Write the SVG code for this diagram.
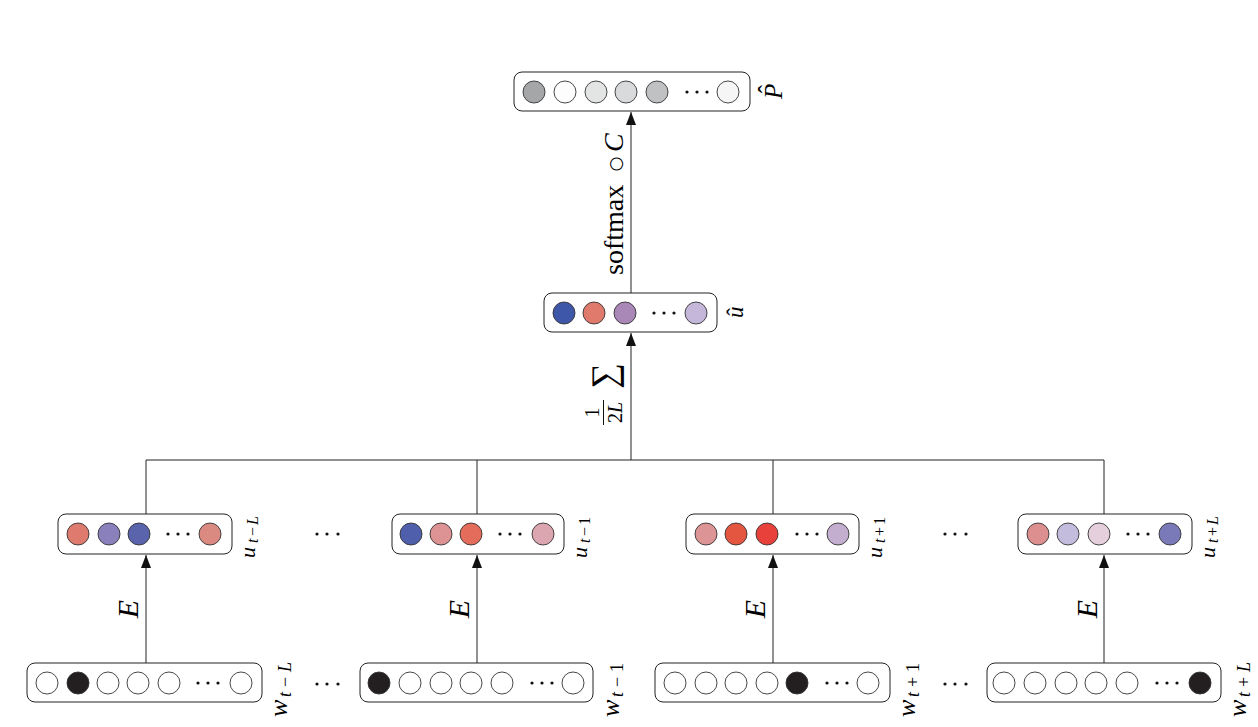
<svg xmlns="http://www.w3.org/2000/svg" width="1258" height="727" viewBox="0 0 1258 727">
<style>
.box{fill:#fff;stroke:#222;stroke-width:1}
.c{stroke:#333;stroke-width:0.9}
.w{fill:#fff}
.k{fill:#231f20}
.d{fill:#111}
.ln{stroke:#222;stroke-width:1;fill:none}
text{font-family:"Liberation Serif","DejaVu Serif",serif;fill:#000}
.it{font-style:italic}
</style>
<defs>
<marker id="ah" viewBox="0 0 13 10" refX="13" refY="5" markerWidth="13" markerHeight="10" markerUnits="userSpaceOnUse" orient="auto">
<path d="M0,0 L13,5 L0,10 z" fill="#111"/>
</marker>
</defs>
<rect width="1258" height="727" fill="#fff"/>

<g id="connectors">
<path class="ln" d="M146,460 H1104 M146,460 V514 M477,460 V514 M773,460 V514 M1104,460 V514"/>
<line class="ln" x1="631" y1="460" x2="631" y2="333" marker-end="url(#ah)"/>
<line class="ln" x1="631" y1="293" x2="631" y2="112" marker-end="url(#ah)"/>
<line class="ln" x1="146" y1="663" x2="146" y2="555" marker-end="url(#ah)"/>
<line class="ln" x1="477" y1="663" x2="477" y2="555" marker-end="url(#ah)"/>
<line class="ln" x1="773" y1="663" x2="773" y2="555" marker-end="url(#ah)"/>
<line class="ln" x1="1104" y1="663" x2="1104" y2="555" marker-end="url(#ah)"/>
<g transform="translate(138,609) rotate(-90)"><text class="it" font-size="30" text-anchor="middle">E</text></g>
<g transform="translate(469,609) rotate(-90)"><text class="it" font-size="30" text-anchor="middle">E</text></g>
<g transform="translate(765,609) rotate(-90)"><text class="it" font-size="30" text-anchor="middle">E</text></g>
<g transform="translate(1097,609) rotate(-90)"><text class="it" font-size="30" text-anchor="middle">E</text></g>
<g transform="translate(623,275) rotate(-90)">
<text font-size="28"><tspan x="0">softmax</tspan><tspan x="123" class="it">C</tspan></text>
<text x="111" y="-2" font-size="17" text-anchor="middle" style="font-family:'DejaVu Sans',sans-serif">○</text>
</g>
<g transform="translate(605,394) rotate(-90)">
<line x1="-31" y1="-1.5" x2="-6" y2="-1.5" stroke="#111" stroke-width="1"/>
<text font-size="20" x="-18.5" y="-6" text-anchor="middle">1</text>
<text font-size="20" x="-18.5" y="17" text-anchor="middle">2<tspan class="it">L</tspan></text>
<text font-size="36" x="18" y="11" text-anchor="middle">∑</text>
</g>
</g>

<g id="P">
<rect class="box" x="514" y="72" width="236" height="39" rx="8"/>
<circle class="c" cx="534" cy="92" r="11" fill="#a5a6a8"/>
<circle class="c" cx="565" cy="92" r="11" fill="#fdfdfd"/>
<circle class="c" cx="596" cy="92" r="11" fill="#e3e4e4"/>
<circle class="c" cx="626" cy="92" r="11" fill="#d9dadb"/>
<circle class="c" cx="657" cy="92" r="11" fill="#c0c1c3"/>
<circle class="d" cx="687" cy="92" r="1.6"/><circle class="d" cx="697" cy="92" r="1.6"/><circle class="d" cx="707" cy="92" r="1.6"/>
<circle class="c" cx="728" cy="92" r="11" fill="#f5f6f5"/>
<g transform="translate(782,99) rotate(-90)"><text font-size="25"><tspan class="it" x="0" y="0">P</tspan><tspan x="10" y="-6.5" text-anchor="middle">ˆ</tspan></text></g>
</g>

<g id="uhat">
<rect class="box" x="544" y="293" width="173" height="39" rx="8"/>
<circle class="c" cx="564" cy="313" r="11" fill="#3f57a8"/>
<circle class="c" cx="594" cy="313" r="11" fill="#df7a6c"/>
<circle class="c" cx="625" cy="313" r="11" fill="#a988b8"/>
<circle class="d" cx="654" cy="313" r="1.6"/><circle class="d" cx="664" cy="313" r="1.6"/><circle class="d" cx="674" cy="313" r="1.6"/>
<circle class="c" cx="696" cy="313" r="11" fill="#c4b7d9"/>
<g transform="translate(743,318) rotate(-90)"><text font-size="23"><tspan class="it" x="0" y="0">u</tspan><tspan x="6" y="0" text-anchor="middle">ˆ</tspan></text></g>
</g>

<g id="u_tL">
<rect class="box" x="58" y="514" width="174" height="40" rx="8"/>
<circle class="c" cx="78" cy="534" r="11" fill="#df7b6e"/>
<circle class="c" cx="109" cy="534" r="11" fill="#8a80bc"/>
<circle class="c" cx="139" cy="534" r="11" fill="#5a64ad"/>
<circle class="d" cx="168" cy="534" r="1.6"/><circle class="d" cx="178" cy="534" r="1.6"/><circle class="d" cx="188" cy="534" r="1.6"/>
<circle class="c" cx="210" cy="534" r="11" fill="#da8a80"/>
<g transform="translate(255,558) rotate(-90)"><text font-size="22"><tspan class="it" x="0">u</tspan><tspan class="it" font-size="16" x="15" dy="3">t</tspan><tspan font-size="16" x="22">−</tspan><tspan class="it" font-size="16" x="33">L</tspan></text></g>
</g>

<g id="u_t1">
<rect class="box" x="392" y="514" width="172" height="40" rx="8"/>
<circle class="c" cx="411" cy="534" r="11" fill="#4f5fab"/>
<circle class="c" cx="441" cy="534" r="11" fill="#dd9294"/>
<circle class="c" cx="471" cy="534" r="11" fill="#e46c5a"/>
<circle class="d" cx="500" cy="534" r="1.6"/><circle class="d" cx="510" cy="534" r="1.6"/><circle class="d" cx="520" cy="534" r="1.6"/>
<circle class="c" cx="543" cy="534" r="11" fill="#dba6b0"/>
<g transform="translate(587,558) rotate(-90)"><text font-size="22"><tspan class="it" x="0">u</tspan><tspan class="it" font-size="16" x="15" dy="3">t</tspan><tspan font-size="16" x="22">−</tspan><tspan font-size="16" x="33">1</tspan></text></g>
</g>

<g id="u_tp1">
<rect class="box" x="686" y="514" width="173" height="40" rx="8"/>
<circle class="c" cx="706" cy="534" r="11" fill="#dc9594"/>
<circle class="c" cx="736" cy="534" r="11" fill="#e4563f"/>
<circle class="c" cx="767" cy="534" r="11" fill="#e8403a"/>
<circle class="d" cx="797" cy="534" r="1.6"/><circle class="d" cx="807" cy="534" r="1.6"/><circle class="d" cx="817" cy="534" r="1.6"/>
<circle class="c" cx="838" cy="534" r="11" fill="#c4aed0"/>
<g transform="translate(882,558) rotate(-90)"><text font-size="22"><tspan class="it" x="0">u</tspan><tspan class="it" font-size="16" x="15" dy="3">t</tspan><tspan font-size="16" x="22">+</tspan><tspan font-size="16" x="33">1</tspan></text></g>
</g>

<g id="u_tpL">
<rect class="box" x="1018" y="514" width="174" height="40" rx="8"/>
<circle class="c" cx="1038" cy="534" r="11" fill="#dc8f8e"/>
<circle class="c" cx="1068" cy="534" r="11" fill="#c4bcdd"/>
<circle class="c" cx="1099" cy="534" r="11" fill="#e5cfdc"/>
<circle class="d" cx="1128" cy="534" r="1.6"/><circle class="d" cx="1138" cy="534" r="1.6"/><circle class="d" cx="1148" cy="534" r="1.6"/>
<circle class="c" cx="1170" cy="534" r="11" fill="#7b7ab8"/>
<g transform="translate(1215,558) rotate(-90)"><text font-size="22"><tspan class="it" x="0">u</tspan><tspan class="it" font-size="16" x="15" dy="3">t</tspan><tspan font-size="16" x="22">+</tspan><tspan class="it" font-size="16" x="33">L</tspan></text></g>
</g>

<g id="gap_dots">
<circle class="d" cx="317" cy="534" r="1.6"/><circle class="d" cx="327" cy="534" r="1.6"/><circle class="d" cx="338" cy="534" r="1.6"/>
<circle class="d" cx="945" cy="534" r="1.6"/><circle class="d" cx="955" cy="534" r="1.6"/><circle class="d" cx="966" cy="534" r="1.6"/>
<circle class="d" cx="317" cy="684" r="1.6"/><circle class="d" cx="327" cy="684" r="1.6"/><circle class="d" cx="338" cy="684" r="1.6"/>
<circle class="d" cx="945" cy="684" r="1.6"/><circle class="d" cx="955" cy="684" r="1.6"/><circle class="d" cx="966" cy="684" r="1.6"/>
</g>

<g id="w_tL">
<rect class="box" x="27" y="663" width="235" height="39" rx="8"/>
<circle class="c w" cx="47" cy="683" r="11"/>
<circle class="c k" cx="78" cy="683" r="11"/>
<circle class="c w" cx="108" cy="683" r="11"/>
<circle class="c w" cx="138" cy="683" r="11"/>
<circle class="c w" cx="169" cy="683" r="11"/>
<circle class="d" cx="198" cy="683" r="1.6"/><circle class="d" cx="208" cy="683" r="1.6"/><circle class="d" cx="218" cy="683" r="1.6"/>
<circle class="c w" cx="241" cy="683" r="11"/>
<g transform="translate(287,717) rotate(-90)"><text font-size="26"><tspan class="it" x="0">w</tspan><tspan class="it" font-size="18" x="20" dy="4">t</tspan><tspan font-size="18" x="30">−</tspan><tspan class="it" font-size="18" x="45">L</tspan></text></g>
</g>

<g id="w_t1">
<rect class="box" x="360" y="663" width="233" height="39" rx="8"/>
<circle class="c k" cx="379" cy="683" r="11"/>
<circle class="c w" cx="410" cy="683" r="11"/>
<circle class="c w" cx="441" cy="683" r="11"/>
<circle class="c w" cx="471" cy="683" r="11"/>
<circle class="c w" cx="502" cy="683" r="11"/>
<circle class="d" cx="532" cy="683" r="1.6"/><circle class="d" cx="542" cy="683" r="1.6"/><circle class="d" cx="552" cy="683" r="1.6"/>
<circle class="c w" cx="573" cy="683" r="11"/>
<g transform="translate(619,717) rotate(-90)"><text font-size="26"><tspan class="it" x="0">w</tspan><tspan class="it" font-size="18" x="20" dy="4">t</tspan><tspan font-size="18" x="30">−</tspan><tspan font-size="18" x="45">1</tspan></text></g>
</g>

<g id="w_tp1">
<rect class="box" x="655" y="663" width="235" height="39" rx="8"/>
<circle class="c w" cx="675" cy="683" r="11"/>
<circle class="c w" cx="706" cy="683" r="11"/>
<circle class="c w" cx="736" cy="683" r="11"/>
<circle class="c w" cx="767" cy="683" r="11"/>
<circle class="c k" cx="797" cy="683" r="11"/>
<circle class="d" cx="827" cy="683" r="1.6"/><circle class="d" cx="837" cy="683" r="1.6"/><circle class="d" cx="847" cy="683" r="1.6"/>
<circle class="c w" cx="868" cy="683" r="11"/>
<g transform="translate(915,717) rotate(-90)"><text font-size="26"><tspan class="it" x="0">w</tspan><tspan class="it" font-size="18" x="20" dy="4">t</tspan><tspan font-size="18" x="30">+</tspan><tspan font-size="18" x="45">1</tspan></text></g>
</g>

<g id="w_tpL">
<rect class="box" x="987" y="663" width="234" height="39" rx="8"/>
<circle class="c w" cx="1004" cy="683" r="11"/>
<circle class="c w" cx="1035" cy="683" r="11"/>
<circle class="c w" cx="1066" cy="683" r="11"/>
<circle class="c w" cx="1096" cy="683" r="11"/>
<circle class="c w" cx="1127" cy="683" r="11"/>
<circle class="d" cx="1157" cy="683" r="1.6"/><circle class="d" cx="1167" cy="683" r="1.6"/><circle class="d" cx="1177" cy="683" r="1.6"/>
<circle class="c k" cx="1200" cy="683" r="11"/>
<g transform="translate(1246,717) rotate(-90)"><text font-size="26"><tspan class="it" x="0">w</tspan><tspan class="it" font-size="18" x="20" dy="4">t</tspan><tspan font-size="18" x="30">+</tspan><tspan class="it" font-size="18" x="45">L</tspan></text></g>
</g>
</svg>
